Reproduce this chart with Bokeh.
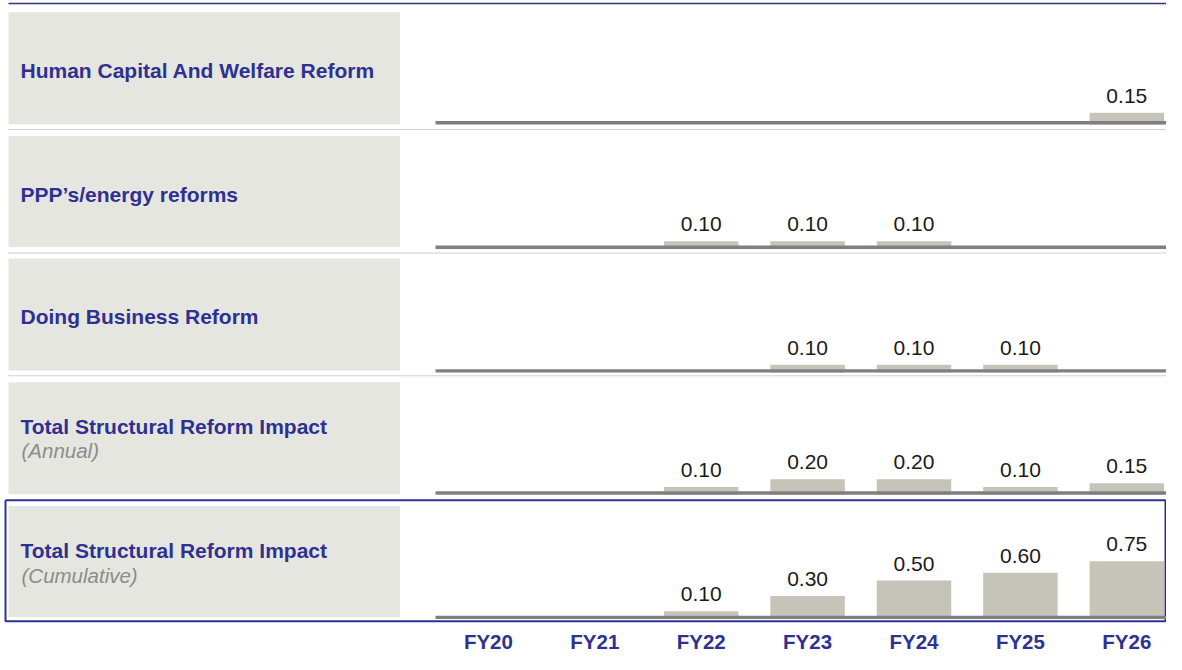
from bokeh.plotting import figure
from bokeh.models import Range1d, ColumnDataSource
from bokeh.core.properties import value
from bokeh.embed import file_html
from bokeh.resources import INLINE

# ---------------- data ----------------
years = ["FY20", "FY21", "FY22", "FY23", "FY24", "FY25", "FY26"]
row_titles = [
    "Human Capital And Welfare Reform",
    "PPP\u2019s/energy reforms",
    "Doing Business Reform",
    "Total  Structural Reform Impact",
    "Total  Structural Reform Impact",
]
row_subtitles = ["", "", "", "(Annual)", "(Cumulative)"]
human_capital = [None, None, None, None, None, None, 0.15]
ppp_energy = [None, None, 0.10, 0.10, 0.10, None, None]
doing_business = [None, None, None, 0.10, 0.10, 0.10, None]
total_annual = [None, None, 0.10, 0.20, 0.20, 0.10, 0.15]
total_cumulative = [None, None, 0.10, 0.30, 0.50, 0.60, 0.75]
series = [human_capital, ppp_energy, doing_business, total_annual, total_cumulative]

# ---------------- layout (pixel coordinates in the frame) ----------------
W, H = 1166, 654
S = 0.974  # vertical squeeze so that everything fits
NAVY = "#2E3192"
PANEL = "#E6E6E1"
BAR = "#C6C4B9"
BASE = "#7F7F7F"
FONT = value("Liberation Sans")


def Y(v):
    return v * S


baselines = [125.5, 253.3, 380.3, 505.7, 633.3]
panel_tops = [12, 139, 265, 392, 519]
panel_bottoms = [127, 253, 380, 507, 633]
px_per_unit = 79.0 * S
x0_px, dx_px = 487.9, 106.4

p = figure(width=W, height=H, output_backend="svg", toolbar_location=None,
           x_range=Range1d(0, W), y_range=Range1d(H, 0),
           x_axis_type=None, y_axis_type=None, min_border=0,
           outline_line_color=None, background_fill_color="white",
           border_fill_color="white")

# year axis range: index -> x pixel
p.extra_x_ranges = {"yr": Range1d((0 - x0_px) / dx_px, (W - x0_px) / dx_px)}

# top rule
p.line([8, W], [Y(3), Y(3)], line_color=NAVY, line_width=1.5)

# left grey panels
p.quad(left=[8] * 5, right=[399.5] * 5, top=[Y(t) for t in panel_tops],
       bottom=[Y(b) for b in panel_bottoms], fill_color=PANEL, line_color=None)

# dotted separators
for ys in [132.5, 259.3, 385.3]:
    p.line([8, W], [Y(ys), Y(ys)], line_color="#9C9C9C", line_width=1, line_dash="1 1")

# cumulative box
bt, bb = Y(513), Y(637.3)
p.line([5, W - 1, W - 1, 5, 5], [bt, bt, bb, bb, bt], line_color=NAVY, line_width=2)

# titles (y = vertical centre of the capitals)
p.text(x=[20] * 5, y=[Y(v) for v in [72.2, 198.8, 324.8, 437.2, 564.5]], text=row_titles,
       text_font=FONT, text_font_style="bold", text_font_size="21px",
       text_color=NAVY, text_align="left", text_baseline="alphabetic")
sub_idx = [i for i, s in enumerate(row_subtitles) if s]
p.text(x=[21] * len(sub_idx), y=[Y(461.7), Y(590)], text=[row_subtitles[i] for i in sub_idx],
       text_font=FONT, text_font_style="italic", text_font_size="20.5px",
       text_color="#8C8C8C", text_align="left", text_baseline="alphabetic")

# bars per row, each row with its own value scale
for k, vals in enumerate(series):
    zero = Y(baselines[k] + 1.7)
    name = f"r{k}"
    p.extra_y_ranges[name] = Range1d((zero - H) / px_per_unit, zero / px_per_unit)
    idx = [i for i, v in enumerate(vals) if v is not None]
    src = ColumnDataSource(dict(x=idx, top=[vals[i] for i in idx],
                                lab=["%.2f" % vals[i] for i in idx]))
    p.vbar(x="x", top="top", bottom=0, width=0.70, source=src,
           x_range_name="yr", y_range_name=name, fill_color=BAR, line_color=None)
    p.text(x="x", y="top", text="lab", source=src, x_range_name="yr", y_range_name=name,
           y_offset=-17, text_font=FONT, text_font_size="21px", text_color="#1A1A1A",
           text_align="center", text_baseline="alphabetic")
    # baseline rule
    p.line([435, W], [Y(baselines[k]), Y(baselines[k])], line_color=BASE, line_width=3.4)

# year labels
ysrc = ColumnDataSource(dict(x=list(range(len(years))), y=[640.5] * len(years), t=years))
p.text(x="x", y="y", text="t", source=ysrc, x_range_name="yr",
       text_font=FONT, text_font_style="bold", text_font_size="20.5px",
       text_color=NAVY, text_align="center", text_baseline="alphabetic")

open("out.html", "w").write(file_html(p, INLINE))
